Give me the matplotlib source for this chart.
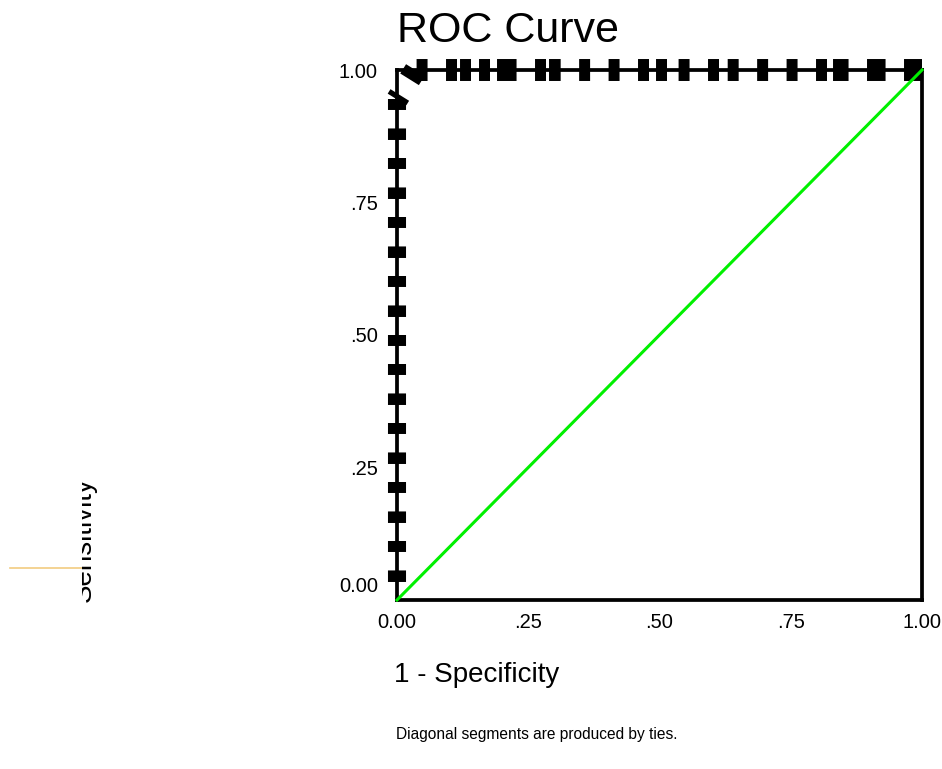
import matplotlib
matplotlib.use("Agg")
import matplotlib.pyplot as plt
import matplotlib.transforms as mtransforms
from matplotlib.lines import Line2D

plt.rcParams['font.family'] = ['Liberation Sans', 'DejaVu Sans']
plt.rcParams['lines.scale_dashes'] = False

# ROC points, from (0,0) to (1,1)
tpr_steps = [k / 18 for k in range(18)]
fpr_top = [0.035, 0.1137, 0.141, 0.1771, 0.2114, 0.2832, 0.3105, 0.48,
           0.5143, 0.6133, 0.8185, 0.8514, 0.859, 0.9162, 0.9295, 0.9867, 1.0]
fpr = [0.0] * len(tpr_steps) + fpr_top
tpr = tpr_steps + [1.0] * len(fpr_top)

ref_line = [0.0, 1.0]
tick_vals = [0.0, 0.25, 0.5, 0.75, 1.0]
tick_labels = ["0.00", ".25", ".50", ".75", "1.00"]

W, H = 942, 769
fig = plt.figure(figsize=(W / 100, H / 100), dpi=100)
ax = fig.add_axes([397 / W, 1 - 600 / H, 525 / W, 530 / H])
ax.set_xlim(0, 1)
ax.set_ylim(0, 1)

for s in ax.spines.values():
    s.set_linewidth(2.7)
    s.set_color("black")

# reference diagonal
ax.plot(ref_line, ref_line, color="#00f000", lw=2.2, zorder=5, clip_on=False)

# ROC curve, each segment drawn on its own (from the top-right end back)
for i in range(len(fpr) - 1, 0, -1):
    x0, y0, x1, y1 = fpr[i], tpr[i], fpr[i - 1], tpr[i - 1]
    lw = 13 if x0 == x1 else 15.8
    ax.plot([x0, x1], [y0, y1], color="black", lw=lw, solid_capstyle="butt",
            dash_capstyle="butt", dashes=(7.9, 13.3), zorder=4, clip_on=False)

ax.set_xticks(tick_vals)
ax.set_xticklabels(tick_labels)
ax.set_yticks(tick_vals)
ax.set_yticklabels(tick_labels)
ax.tick_params(axis="x", length=0, pad=9.5, labelsize=14.5)
ax.tick_params(axis="y", length=0, pad=13.7, labelsize=14.5)

lab0 = ax.get_yticklabels()[0]
lab0.set_transform(lab0.get_transform() +
                   mtransforms.ScaledTranslation(0, 0.15, fig.dpi_scale_trans))

fig.text(397 / W, 1 - 42 / H, "ROC Curve", fontsize=31, ha="left", va="baseline")
fig.text(394 / W, 1 - 682 / H, "1 - Specificity", fontsize=20, ha="left", va="baseline")
fig.text(396 / W, 1 - 739 / H, "Diagonal segments are produced by ties.",
         fontsize=11.2, ha="left", va="baseline")

ylab = fig.text(91 / W, 1 - 540 / H, "Sensitivity", fontsize=20, rotation=90,
                rotation_mode="anchor", ha="center", va="baseline")
ylab.set_clip_on(True)
ylab.set_clip_box(mtransforms.Bbox.from_extents(82, 0, W, H))

fig.add_artist(Line2D([10 / W, 82 / W], [1 - 568 / H, 1 - 568 / H],
                      color="#f2cc80", lw=1.2))

fig.savefig("out.png", dpi=100)
